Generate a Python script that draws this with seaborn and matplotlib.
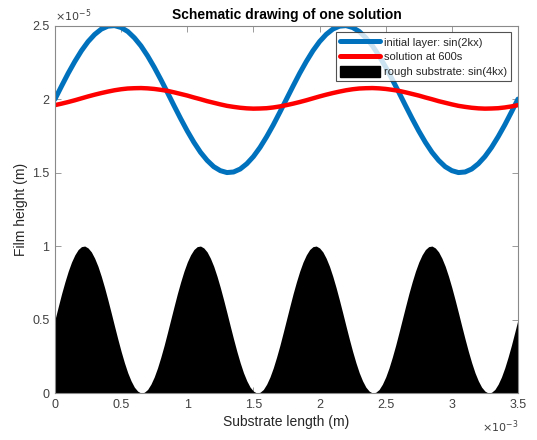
import numpy as np
import pandas as pd
import seaborn as sns
import matplotlib.pyplot as plt
from matplotlib.patches import Patch
from matplotlib.lines import Line2D

# substrate position, in units of 1e-3 m (step 0.05e-3 m)
x_pos = [round(0.05 * i, 3) for i in range(71)]
# finer positions for the substrate (step 0.025e-3 m)
x_sub = [round(0.025 * i, 3) for i in range(141)]

# initial layer, film height in units of 1e-5 m
blue_period = [2.000, 2.089, 2.176, 2.256, 2.329, 2.391, 2.440, 2.476, 2.496, 2.500,
               2.487, 2.460, 2.417, 2.362, 2.294, 2.217, 2.133, 2.045, 1.955, 1.867,
               1.783, 1.706, 1.638, 1.583, 1.540, 1.513, 1.500, 1.504, 1.524, 1.560,
               1.609, 1.671, 1.744, 1.824, 1.911]
initial_layer = blue_period + blue_period + [2.000]

# solution at 600 s, units of 1e-5 m
red_period = [2.005, 2.018, 2.030, 2.041, 2.051, 2.060, 2.067, 2.072, 2.074, 2.075,
              2.073, 2.069, 2.063, 2.056, 2.046, 2.035, 2.024, 2.011, 1.999, 1.986,
              1.975, 1.964, 1.954, 1.947, 1.941, 1.937, 1.935, 1.936, 1.938, 1.943,
              1.950, 1.959, 1.969, 1.980, 1.992]
solution_600s = red_period[31:] + red_period + red_period[:32]

# rough substrate, units of 1e-5 m (one bump)
sub_period = [0.500, 0.589, 0.676, 0.756, 0.829, 0.891, 0.940, 0.976, 0.996, 1.000,
              0.987, 0.960, 0.917, 0.862, 0.794, 0.717, 0.633, 0.545, 0.455, 0.367,
              0.283, 0.206, 0.138, 0.083, 0.040, 0.013, 0.000, 0.005, 0.024, 0.060,
              0.109, 0.171, 0.244, 0.324, 0.411]
substrate = sub_period * 4 + [0.500]

df = pd.DataFrame({'x': x_pos, 'initial': initial_layer, 'solution': solution_600s})
df_sub = pd.DataFrame({'x': x_sub, 'substrate': substrate})

sns.set_style('white')
plt.rcParams['font.family'] = ['Liberation Sans', 'DejaVu Sans']

fig = plt.figure(figsize=(5.37, 4.40), dpi=100)
ax = fig.add_axes([0.1024, 0.1068, 0.8622, 0.835])

blue = '#0072BD'
ax.fill_between(df_sub['x'], 0, df_sub['substrate'], color='black', lw=0, zorder=1)
sns.lineplot(data=df, x='x', y='initial', color=blue, lw=3.6, ax=ax, zorder=3)
sns.lineplot(data=df, x='x', y='solution', color='#FF0000', lw=3.2, ax=ax, zorder=3)

ax.set_xlim(0, 3.5)
ax.set_ylim(0, 2.5)
ax.set_xticks([0, 0.5, 1, 1.5, 2, 2.5, 3, 3.5])
ax.set_yticks([0, 0.5, 1, 1.5, 2, 2.5])
ax.set_xticklabels(['0', '0.5', '1', '1.5', '2', '2.5', '3', '3.5'])
ax.set_yticklabels(['0', '0.5', '1', '1.5', '2', '2.5'])

tick_col = '#404040'
for s in ax.spines.values():
    s.set_color('#8a8a8a')
    s.set_linewidth(0.8)
    s.set_zorder(5)
ax.tick_params(direction='in', length=4, width=0.6, color='#8a8a8a',
               labelcolor=tick_col, labelsize=9, top=True, right=True,
               bottom=True, left=True, pad=4)

ax.set_xlabel('Substrate length (m)', fontsize=10, color='#262626', labelpad=3)
ax.set_ylabel('Film height (m)', fontsize=10, color='#262626', labelpad=3)
ax.set_title('Schematic drawing of one solution', fontsize=10, fontweight='bold',
             color='black', pad=5)

ax.text(0.0, 1.005, r'$\times10^{-5}$', transform=ax.transAxes, fontsize=8,
        color=tick_col, ha='left', va='bottom')
ax.text(1.0, -0.07, r'$\times10^{-3}$', transform=ax.transAxes, fontsize=8,
        color=tick_col, ha='right', va='top')

handles = [Line2D([0], [0], color=blue, lw=3.6),
           Line2D([0], [0], color='#FF0000', lw=3.6),
           Patch(facecolor='black', edgecolor='black')]
labels = ['initial layer: sin(2kx)', 'solution at 600s', 'rough substrate: sin(4kx)']
leg = ax.legend(handles, labels, loc='upper right', fontsize=8, frameon=True,
                fancybox=False, handlelength=3.6, handleheight=1.2,
                borderaxespad=0.6, labelspacing=0.3, handletextpad=0.4,
                borderpad=0.35)
leg.get_frame().set_edgecolor('#262626')
leg.get_frame().set_linewidth(0.8)
leg.set_zorder(6)

fig.savefig('out.png', dpi=100)
